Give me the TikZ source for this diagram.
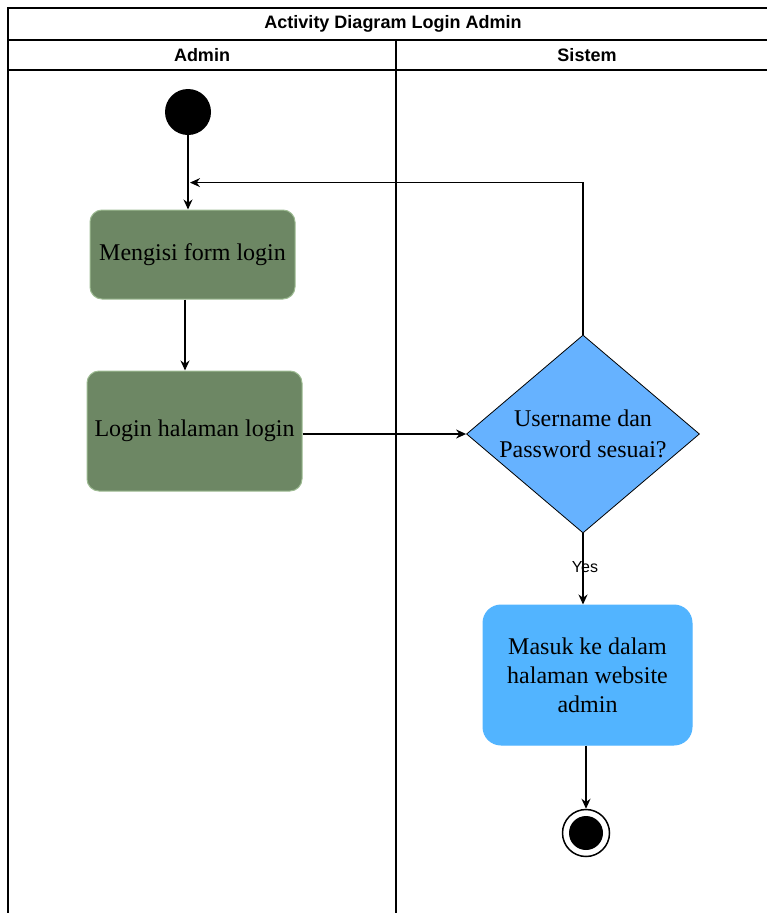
\documentclass[tikz,border=0pt]{standalone}
\usepackage{fontspec}
\setmainfont{Liberation Serif}
\newfontfamily\lanefont{Liberation Sans}
\usetikzlibrary{shapes.geometric,arrows.meta}

\definecolor{actfill}{HTML}{6D8764}
\definecolor{actline}{HTML}{9DBB92}
\definecolor{decfill}{HTML}{66B2FF}
\definecolor{pagefill}{HTML}{52B4FF}

\tikzset{
  lane/.style={draw=black, line width=1.6pt},
  lanetitle/.style={font=\lanefont\bfseries\fontsize{18}{20}\selectfont, inner sep=0pt},
  flow/.style={draw=black, line width=1.3pt, -{Stealth[length=10pt,width=9pt]}},
  actgreen/.style={rounded corners=12pt, fill=actfill, draw=actline, line width=1pt,
    align=center, inner sep=0pt, font=\fontsize{24}{29}\selectfont},
  actblue/.style={rounded corners=18pt, fill=pagefill, draw=pagefill, line width=1pt,
    align=center, inner sep=0pt, font=\fontsize{24}{29}\selectfont},
  decision/.style={diamond, fill=decfill, draw=black, line width=0.8pt,
    minimum width=233pt, minimum height=198pt, aspect=1.18, inner sep=0pt,
    align=center, font=\fontsize{24}{31}\selectfont},
  startdot/.style={circle, fill=black, minimum size=46pt, inner sep=0pt},
  endring/.style={circle, draw=black, line width=1.5pt, fill=white, minimum size=47pt, inner sep=0pt},
  enddot/.style={circle, fill=black, minimum size=34pt, inner sep=0pt},
  guard/.style={font=\lanefont\fontsize{16}{18}\selectfont, inner sep=0pt},
}

\begin{document}
\begin{tikzpicture}[x=1pt,y=-1pt]
\useasboundingbox (0,0) rectangle (767,913);

% swimlane frame
\draw[lane] (8,930) -- (8,8) -- (790,8);
\draw[lane] (8,40) -- (790,40);
\draw[lane] (8,70) -- (790,70);
\draw[lane] (396,40) -- (396,930);
\node[lanetitle] (title) at (393,24) {Activity Diagram Login Admin};
\node[lanetitle] (laneadmin) at (202,55) {Admin};
\node[lanetitle] (lanesistem) at (587,55) {Sistem};

% activities
\node[startdot] (start) at (188,112) {};
\node[actgreen, minimum width=205pt, minimum height=89pt] (fillform) at (192.5,254.5) {Mengisi form login};
\node[actgreen, minimum width=215pt, minimum height=120pt] (loginpg) at (194.5,431) {Login halaman login};
\node[decision] (check) at (583,434) {Username dan\\Password sesuai?};
\node[actblue, minimum width=209pt, minimum height=140pt] (home) at (587.5,675) {Masuk ke dalam\\halaman website\\admin};
\node[endring] (finish) at (586,833) {};
\node[enddot] (finishdot) at (finish) {};

% control flow
\draw[flow] (start.south) -- (start.south |- fillform.north);
\draw[flow] ([xshift=-7.5pt]fillform.south) -- ([xshift=-7.5pt]fillform.south |- loginpg.north);
\draw[flow] (loginpg.east |- check.west) -- (check.west);
\draw[flow] (check.north) -- ++(0,-152) coordinate (retry) -- ([xshift=2pt]retry -| start);
\draw[flow] (check.south) -- node[guard, pos=0.47, xshift=2pt] {Yes} (check.south |- home.north);
\draw[flow] (home.south -| finish) -- (finish.north);
\end{tikzpicture}
\end{document}
